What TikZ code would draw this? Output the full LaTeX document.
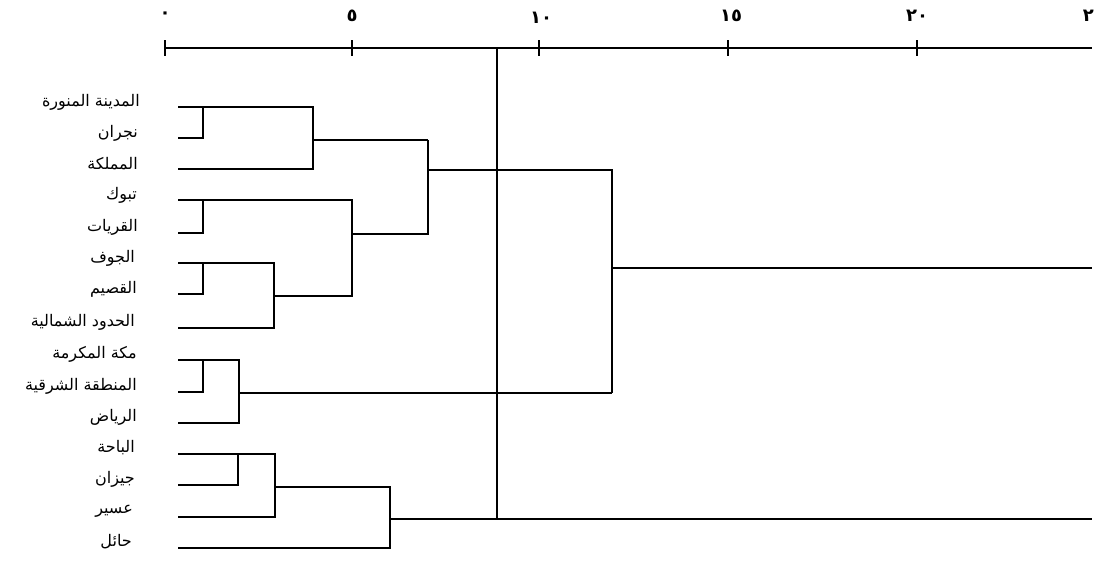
\documentclass[tikz,border=0pt]{standalone}
\usepackage{fontspec}
\newfontfamily\arabicfont[Script=Arabic]{DejaVu Sans}
\TeXXeTstate=1
\begin{document}
\begin{tikzpicture}[x=1pt,y=-1pt,
  dline/.style={line width=1.3pt,line join=miter},
  axisline/.style={line width=1.5pt},
  lab/.style={anchor=east,inner sep=0pt,font=\arabicfont\fontsize{16}{18}\selectfont},
  ticklab/.style={inner sep=0pt,font=\arabicfont\bfseries\fontsize{18}{20}\selectfont}]
\useasboundingbox (0,0) rectangle (1100,563);
% axis
\coordinate (ax0) at (165,48);
\coordinate (ax1) at (1092,48);
\draw[axisline] (ax0) -- (ax1);
\foreach \xx/\nm in {165/t0,352/t5,539/t10,728/t15,917/t20}{
  \coordinate (\nm a) at (\xx,40);
  \coordinate (\nm b) at (\xx,56);
  \draw[axisline] (\nm a) -- (\nm b);
}
\node[ticklab] (n0) at (165,15) {٠};
\node[ticklab] (n5) at (352,16) {٥};
\node[ticklab] (n10) at (541,18) {١٠};
\node[ticklab] (n15) at (731,16) {١٥};
\node[ticklab] (n20) at (917,16) {٢٠};
\node[ticklab,anchor=east] (n25) at (1094,16) {٢};
% labels
\node[lab] (l1) at (140,102) {\beginR المدينة المنورة\endR};
\node[lab] (l2) at (138,133) {\beginR نجران\endR};
\node[lab] (l3) at (138,164) {\beginR المملكة\endR};
\node[lab] (l4) at (137,195) {\beginR تبوك\endR};
\node[lab] (l5) at (138,227) {\beginR القريات\endR};
\node[lab] (l6) at (135,258) {\beginR الجوف\endR};
\node[lab] (l7) at (137,289) {\beginR القصيم\endR};
\node[lab] (l8) at (135,322) {\beginR الحدود الشمالية\endR};
\node[lab] (l9) at (137,354) {\beginR مكة المكرمة\endR};
\node[lab] (l10) at (137,386) {\beginR المنطقة الشرقية\endR};
\node[lab] (l11) at (137,417) {\beginR الرياض\endR};
\node[lab] (l12) at (135,448) {\beginR الباحة\endR};
\node[lab] (l13) at (135,479) {\beginR جيزان\endR};
\node[lab] (l14) at (133,511) {\beginR عسير\endR};
\node[lab] (l15) at (132,542) {\beginR حائل\endR};
% leaf starts
\foreach \i/\yy in {1/107,2/138,3/169,4/200,5/233,6/263,7/294,8/328,9/360,10/392,11/423,12/454,13/485,14/517,15/548}{
  \coordinate (s\i) at (178,\yy);
}
% cluster A
\coordinate (a12) at (203,107);
\coordinate (a1r) at (313,107);
\coordinate (a3r) at (313,169);
\draw[dline] (s2) -| (a12);
\draw[dline] (s1) -- (a1r) -- (a3r) -- (s3);
\coordinate (am) at (313,140);
\coordinate (ab1) at (428,140);
\draw[dline] (am) -- (ab1);
% cluster B
\coordinate (b45) at (203,200);
\coordinate (b4r) at (352,200);
\coordinate (b67) at (203,263);
\coordinate (b6r) at (274,263);
\coordinate (b8r) at (274,328);
\coordinate (bm) at (274,296);
\coordinate (bmr) at (352,296);
\draw[dline] (s5) -| (b45);
\draw[dline] (s7) -| (b67);
\draw[dline] (s6) -- (b6r) -- (b8r) -- (s8);
\draw[dline] (bm) -- (bmr) -- (b4r) -- (s4);
\coordinate (bb) at (352,234);
\coordinate (ab2) at (428,234);
\draw[dline] (bb) -- (ab2) -- (ab1);
% AB merge
\coordinate (abm) at (428,170);
\coordinate (top1) at (612,170);
\coordinate (top2) at (612,393);
\draw[dline] (abm) -- (top1) -- (top2);
% cluster C
\coordinate (c910) at (203,360);
\coordinate (c9r) at (239,360);
\coordinate (c11r) at (239,423);
\coordinate (cm) at (239,393);
\draw[dline] (s10) -| (c910);
\draw[dline] (s9) -- (c9r) -- (c11r) -- (s11);
\draw[dline] (cm) -- (top2);
\coordinate (topm) at (612,268);
\coordinate (topr) at (1092,268);
\draw[dline] (topm) -- (topr);
% cluster D
\coordinate (d1213) at (238,454);
\coordinate (d12r) at (275,454);
\coordinate (d14r) at (275,517);
\coordinate (dm) at (275,487);
\coordinate (dmr) at (390,487);
\coordinate (d15r) at (390,548);
\draw[dline] (s13) -| (d1213);
\draw[dline] (s12) -- (d12r) -- (d14r) -- (s14);
\draw[dline] (dm) -- (dmr) -- (d15r) -- (s15);
\coordinate (dd) at (390,519);
\coordinate (ddr) at (1092,519);
\draw[dline] (dd) -- (ddr);
\coordinate (cut) at (497,519);
\coordinate (cuttop) at (497,48);
\draw[dline] (cuttop) -- (cut);
\end{tikzpicture}
\end{document}
